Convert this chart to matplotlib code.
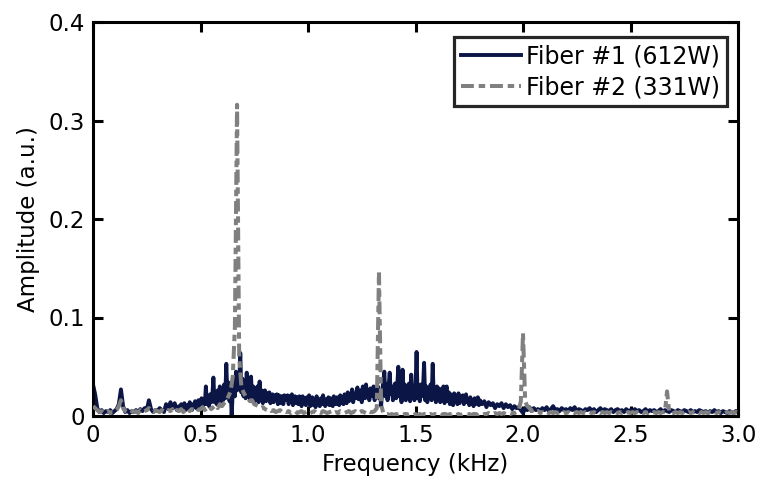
import numpy as np
import matplotlib
matplotlib.use("Agg")
import matplotlib.pyplot as plt

plt.rcParams['font.family'] = ['DejaVu Sans']

# Frequency grid (kHz): 0.01 kHz steps, finer 0.005 kHz steps in 0.4-1.8 kHz
freq1 = np.round(np.concatenate([np.arange(0, 40) * 0.01,
                                 0.40 + np.arange(280) * 0.005,
                                 1.80 + np.arange(121) * 0.01]), 3)
freq2 = np.round(np.arange(0, 301) * 0.01, 2)

# Fiber #1 (612W) amplitude spectrum
amp_fiber1 = [
    # 0.00 - 0.39 (0.01 step)
    0.032, 0.022, 0.008, 0.004, 0.006, 0.003, 0.005, 0.004, 0.006, 0.003,
    0.005, 0.007, 0.012, 0.027, 0.010, 0.004, 0.006, 0.003, 0.005, 0.004,
    0.006, 0.004, 0.007, 0.005, 0.008, 0.006, 0.016, 0.007, 0.004, 0.006,
    0.005, 0.008, 0.006, 0.004, 0.012, 0.007, 0.014, 0.008, 0.013, 0.006,
    # 0.400 - 1.795 (0.005 step)
    0.010, 0.006, 0.012, 0.008, 0.007, 0.013, 0.006, 0.009, 0.011, 0.007,
    0.014, 0.008, 0.006, 0.012, 0.009, 0.015, 0.008, 0.011, 0.016, 0.009,
    0.012, 0.018, 0.009, 0.016, 0.012, 0.030, 0.012, 0.018, 0.010, 0.022,
    0.014, 0.020, 0.039, 0.014, 0.024, 0.012, 0.026, 0.016, 0.030, 0.014,
    0.026, 0.016, 0.032, 0.018, 0.053, 0.020, 0.034, 0.015, 0.028, 0.001,
    0.024, 0.036, 0.020, 0.045, 0.026, 0.040, 0.030, 0.064, 0.024, 0.038,
    0.020, 0.034, 0.018, 0.044, 0.020, 0.032, 0.016, 0.040, 0.018, 0.030,
    0.014, 0.028, 0.018, 0.030, 0.014, 0.035, 0.016, 0.026, 0.013, 0.024,
    0.026, 0.015, 0.023, 0.018, 0.024, 0.013, 0.020, 0.022, 0.014, 0.021,
    0.016, 0.022, 0.012, 0.021, 0.020, 0.013, 0.020, 0.012, 0.021, 0.016,
    0.018, 0.021, 0.012, 0.020, 0.014, 0.022, 0.011, 0.018, 0.020, 0.013,
    0.019, 0.012, 0.020, 0.015, 0.010, 0.020, 0.014, 0.018, 0.011, 0.019,
    0.013, 0.021, 0.010, 0.017, 0.019, 0.011, 0.015, 0.009, 0.020, 0.013,
    0.016, 0.010, 0.018, 0.012, 0.021, 0.014, 0.010, 0.017, 0.012, 0.019,
    0.011, 0.018, 0.013, 0.010, 0.020, 0.014, 0.012, 0.019, 0.015, 0.011,
    0.021, 0.013, 0.018, 0.012, 0.022, 0.016, 0.013, 0.024, 0.015, 0.020,
    0.016, 0.027, 0.014, 0.022, 0.018, 0.025, 0.029, 0.017, 0.020, 0.026,
    0.014, 0.030, 0.021, 0.018, 0.032, 0.019, 0.024, 0.016, 0.028, 0.020,
    0.022, 0.030, 0.016, 0.028, 0.020, 0.030, 0.018, 0.024, 0.010, 0.026,
    0.034, 0.045, 0.020, 0.032, 0.016, 0.030, 0.044, 0.022, 0.030, 0.016,
    0.028, 0.033, 0.018, 0.030, 0.050, 0.020, 0.030, 0.014, 0.047, 0.022,
    0.032, 0.016, 0.030, 0.020, 0.033, 0.015, 0.042, 0.020, 0.030, 0.016,
    0.028, 0.065, 0.018, 0.030, 0.015, 0.032, 0.020, 0.028, 0.054, 0.016,
    0.030, 0.014, 0.028, 0.020, 0.032, 0.016, 0.053, 0.018, 0.028, 0.014,
    0.030, 0.016, 0.028, 0.014, 0.026, 0.018, 0.030, 0.013, 0.025, 0.030,
    0.015, 0.024, 0.012, 0.022, 0.018, 0.011, 0.023, 0.015, 0.020, 0.012,
    0.023, 0.013, 0.020, 0.016, 0.021, 0.012, 0.018, 0.022, 0.014, 0.017,
    0.011, 0.019, 0.013, 0.016, 0.010, 0.018, 0.012, 0.015, 0.019, 0.011,
    # 1.80 - 3.00 (0.01 step)
    0.016, 0.012, 0.015, 0.009, 0.014, 0.011, 0.013, 0.008, 0.012, 0.010,
    0.013, 0.008, 0.012, 0.009, 0.011, 0.007, 0.010, 0.008, 0.009, 0.006,
    0.003, 0.008, 0.006, 0.009, 0.005, 0.008, 0.006, 0.007, 0.005, 0.008,
    0.006, 0.009, 0.005, 0.007, 0.010, 0.006, 0.007, 0.005, 0.008, 0.006,
    0.007, 0.005, 0.008, 0.006, 0.009, 0.005, 0.007, 0.006, 0.004, 0.007,
    0.006, 0.008, 0.005, 0.007, 0.004, 0.006, 0.008, 0.005, 0.007, 0.006,
    0.005, 0.007, 0.004, 0.006, 0.007, 0.005, 0.006, 0.004, 0.007, 0.005,
    0.006, 0.004, 0.007, 0.005, 0.006, 0.004, 0.005, 0.007, 0.004, 0.006,
    0.005, 0.006, 0.004, 0.005, 0.007, 0.004, 0.006, 0.005, 0.004, 0.006,
    0.005, 0.004, 0.006, 0.005, 0.004, 0.006, 0.005, 0.004, 0.006, 0.004,
    0.005, 0.004, 0.006, 0.005, 0.004, 0.005, 0.003, 0.005, 0.004, 0.006,
    0.004, 0.005, 0.003, 0.005, 0.004, 0.003, 0.005, 0.004, 0.003, 0.005,
    0.004,
]

# Fiber #2 (331W) amplitude spectrum
amp_fiber2 = [
    0.010, 0.008, 0.006, 0.004, 0.005, 0.003, 0.004, 0.005, 0.003, 0.004,
    0.004, 0.006, 0.010, 0.016, 0.008, 0.005, 0.004, 0.006, 0.005, 0.004,
    0.005, 0.003, 0.006, 0.004, 0.005, 0.006, 0.008, 0.005, 0.004, 0.006,
    0.005, 0.004, 0.006, 0.005, 0.004, 0.006, 0.005, 0.007, 0.004, 0.006,
    0.005, 0.007, 0.004, 0.006, 0.008, 0.005, 0.007, 0.006, 0.008, 0.006,
    0.007, 0.009, 0.006, 0.008, 0.010, 0.007, 0.009, 0.011, 0.008, 0.012,
    0.010, 0.013, 0.016, 0.020, 0.025, 0.040, 0.090, 0.316, 0.060, 0.030,
    0.024, 0.020, 0.018, 0.015, 0.016, 0.012, 0.011, 0.010, 0.008, 0.009,
    0.007, 0.006, 0.007, 0.005, 0.006, 0.004, 0.005, 0.006, 0.004, 0.005,
    0.004, 0.005, 0.003, 0.004, 0.005, 0.003, 0.004, 0.005, 0.003, 0.004,
    0.005, 0.003, 0.004, 0.005, 0.003, 0.004, 0.003, 0.005, 0.004, 0.003,
    0.004, 0.005, 0.003, 0.004, 0.003, 0.005, 0.004, 0.003, 0.004, 0.005,
    0.003, 0.004, 0.005, 0.003, 0.004, 0.005, 0.004, 0.003, 0.005, 0.004,
    0.004, 0.005, 0.008, 0.146, 0.012, 0.003, 0.002, 0.002, 0.001, 0.002,
    0.001, 0.002, 0.001, 0.002, 0.001, 0.002, 0.002, 0.001, 0.002, 0.001,
    0.002, 0.001, 0.002, 0.001, 0.002, 0.002, 0.001, 0.002, 0.001, 0.002,
    0.001, 0.002, 0.001, 0.002, 0.002, 0.001, 0.002, 0.001, 0.002, 0.001,
    0.002, 0.001, 0.002, 0.002, 0.001, 0.002, 0.001, 0.002, 0.002, 0.001,
    0.002, 0.001, 0.002, 0.002, 0.003, 0.002, 0.002, 0.003, 0.002, 0.003,
    0.002, 0.003, 0.002, 0.003, 0.002, 0.003, 0.003, 0.004, 0.006, 0.015,
    0.084, 0.015, 0.010, 0.008, 0.005, 0.006, 0.004, 0.005, 0.003, 0.004,
    0.003, 0.004, 0.003, 0.004, 0.003, 0.004, 0.003, 0.004, 0.003, 0.004,
    0.003, 0.004, 0.003, 0.004, 0.003, 0.004, 0.003, 0.004, 0.003, 0.004,
    0.003, 0.004, 0.003, 0.004, 0.003, 0.004, 0.003, 0.004, 0.003, 0.004,
    0.003, 0.004, 0.003, 0.004, 0.003, 0.004, 0.003, 0.004, 0.003, 0.004,
    0.003, 0.004, 0.003, 0.004, 0.003, 0.004, 0.003, 0.004, 0.003, 0.004,
    0.003, 0.004, 0.003, 0.004, 0.003, 0.004, 0.004, 0.025, 0.004, 0.003,
    0.003, 0.004, 0.003, 0.004, 0.003, 0.004, 0.003, 0.004, 0.003, 0.004,
    0.003, 0.004, 0.003, 0.004, 0.003, 0.004, 0.003, 0.004, 0.003, 0.004,
    0.003, 0.004, 0.003, 0.004, 0.003, 0.004, 0.003, 0.004, 0.003, 0.004,
    0.003,
]

labels = ['Fiber #1 (612W)', 'Fiber #2 (331W)']
xticks = [0, 0.5, 1.0, 1.5, 2.0, 2.5, 3.0]
xticklabels = ['0', '0.5', '1.0', '1.5', '2.0', '2.5', '3.0']
yticks = [0, 0.1, 0.2, 0.3, 0.4]
yticklabels = ['0', '0.1', '0.2', '0.3', '0.4']

fig = plt.figure(figsize=(7.58, 4.91), dpi=100)
ax = fig.add_axes([93/758, 75/491, 645/758, 394/491])

ax.plot(freq1, amp_fiber1, color='#0b1646', lw=2.8, label=labels[0], zorder=2,
        solid_joinstyle='round')
ax.plot(freq2, amp_fiber2, color='#808080', lw=2.9, label=labels[1], zorder=3,
        linestyle=(0, (3.2, 1.2, 1.6, 1.2)))

ax.set_xlim(0, 3.0)
ax.set_ylim(0, 0.4)
ax.set_xticks(xticks)
ax.set_xticklabels(xticklabels)
ax.set_yticks(yticks)
ax.set_yticklabels(yticklabels)
ax.tick_params(direction='in', length=7, width=2.2, top=True, right=True,
               labelsize=16.5, pad=6, colors='black')
for s in ax.spines.values():
    s.set_linewidth(2.2)
ax.set_xlabel('Frequency (kHz)', fontsize=16.5, labelpad=4)
ax.set_ylabel('Amplitude (a.u.)', fontsize=16.5, labelpad=6)

leg = ax.legend(loc='upper right', bbox_to_anchor=(727/758, 1 - 37/491),
                bbox_transform=fig.transFigure, borderaxespad=0,
                fontsize=17, frameon=True, fancybox=False,
                handlelength=2.55, handletextpad=0.2, borderpad=0.3,
                labelspacing=0.3, edgecolor='#262626', framealpha=1)
leg.get_frame().set_linewidth(2.3)

fig.savefig('out.png', dpi=100)
